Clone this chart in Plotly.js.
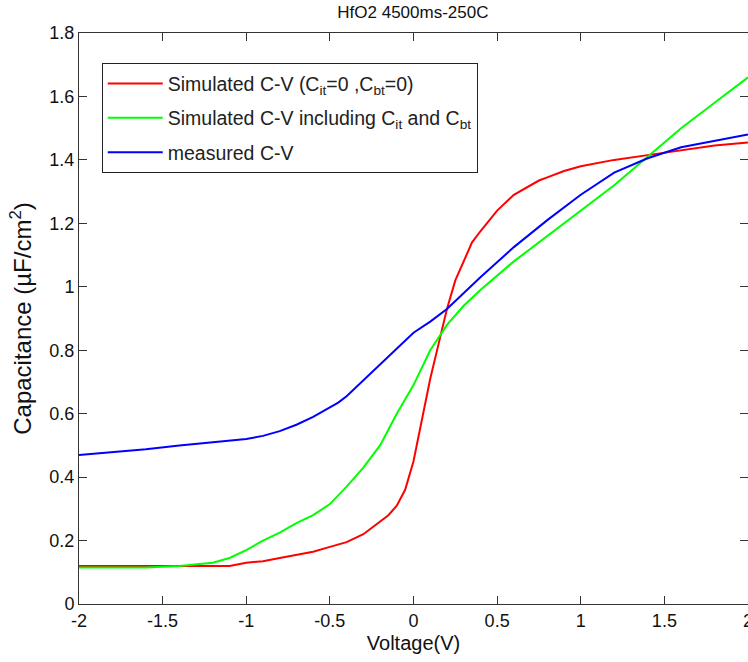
<!DOCTYPE html>
<html>
<head>
<meta charset="utf-8">
<script src="https://cdn.plot.ly/plotly-3.0.1.min.js"></script>
<style>html,body{margin:0;padding:0;background:#fff;}#chart{width:748px;height:662px;}</style>
</head>
<body>
<div id="chart"></div>
<script>
// Data
const redV = [-2,-1.5,-1.2,-1.1,-1,-0.9,-0.8,-0.7,-0.6,-0.5,-0.4,-0.3,-0.2,-0.15,-0.1,-0.05,0,0.05,0.1,0.15,0.2,0.25,0.3,0.35,0.4,0.5,0.6,0.7,0.75,0.8,0.9,1,1.2,1.4,1.6,1.8,2];
const redC = [0.12,0.12,0.12,0.12,0.13,0.135,0.145,0.155,0.165,0.18,0.195,0.22,0.26,0.28,0.31,0.36,0.45,0.58,0.71,0.82,0.93,1.02,1.08,1.14,1.175,1.24,1.29,1.32,1.335,1.345,1.365,1.38,1.40,1.415,1.43,1.445,1.455];

const greenV = [-2,-1.6,-1.4,-1.2,-1.1,-1,-0.9,-0.8,-0.7,-0.6,-0.5,-0.4,-0.3,-0.2,-0.1,0,0.1,0.2,0.3,0.4,0.6,0.8,1,1.2,1.4,1.6,1.8,2];
const greenC = [0.115,0.115,0.12,0.13,0.145,0.17,0.2,0.225,0.255,0.28,0.315,0.37,0.43,0.5,0.6,0.69,0.8,0.88,0.94,0.99,1.08,1.16,1.24,1.32,1.41,1.5,1.58,1.66];

const blueV = [-2,-1.8,-1.6,-1.4,-1.2,-1,-0.9,-0.8,-0.7,-0.6,-0.5,-0.45,-0.4,-0.35,-0.3,-0.2,-0.1,0,0.1,0.2,0.4,0.6,0.8,1,1.2,1.4,1.6,1.8,2];
const blueC = [0.47,0.478,0.488,0.5,0.51,0.52,0.53,0.545,0.565,0.59,0.62,0.635,0.655,0.68,0.705,0.755,0.805,0.855,0.89,0.93,1.03,1.125,1.21,1.29,1.36,1.405,1.44,1.46,1.48];

const seriesNames = [
  "Simulated C-V (C<sub>it</sub>=0 ,C<sub>bt</sub>=0)",
  "Simulated C-V including C<sub>it</sub> and C<sub>bt</sub>",
  "measured C-V"
];
const xTickVals = [-2,-1.5,-1,-0.5,0,0.5,1,1.5,2];
const xTickText = ["-2","-1.5","-1","-0.5","0","0.5","1","1.5","2"];
const yTickVals = [0,0.2,0.4,0.6,0.8,1,1.2,1.4,1.6,1.8];
const yTickText = ["0","0.2","0.4","0.6","0.8","1","1.2","1.4","1.6","1.8"];

const reg = 'Arial, "Liberation Sans", sans-serif';

const traces = [
  {x: redV, y: redC, name: seriesNames[0], legendgroup: 'a', mode: 'lines', line: {color: '#ff0000', width: 2}},
  {x: greenV, y: greenC, name: seriesNames[1], legendgroup: 'b', mode: 'lines', line: {color: '#00ff00', width: 2}},
  {x: blueV, y: blueC, name: seriesNames[2], legendgroup: 'c', mode: 'lines', line: {color: '#0000ff', width: 2}}
];

const axisCommon = {
  showgrid: false, zeroline: false, showline: true, linecolor: '#333', linewidth: 1,
  mirror: 'ticks', ticks: 'inside', ticklen: 8, tickcolor: '#333', tickwidth: 1,
  ticklabeloverflow: 'allow',
  tickfont: {family: reg, size: 18, color: '#111'}
};

const layout = {
  width: 748, height: 662,
  margin: {l: 79, r: 0, t: 33, b: 58},
  paper_bgcolor: '#fff', plot_bgcolor: '#fff',
  title: {text: 'HfO2 4500ms-250C', font: {family: reg, size: 17, color: '#111'}, x: 0.552, xanchor: 'center', y: 0.982, yanchor: 'middle'},
  xaxis: Object.assign({}, axisCommon, {
    range: [-2, 2], tickmode: 'array', tickvals: xTickVals, ticktext: xTickText,
    title: {text: 'Voltage(V)', font: {family: reg, size: 20, color: '#111'}, standoff: 6}
  }),
  yaxis: Object.assign({}, axisCommon, {
    range: [0, 1.8], tickmode: 'array', tickvals: yTickVals, ticktext: yTickText,
    title: {text: 'Capacitance (µF/cm<sup>2</sup>)', font: {family: reg, size: 24, color: '#111'}, standoff: 10}
  }),
  showlegend: true,
  legend: {
    x: 0.034, y: 0.947, xanchor: 'left', yanchor: 'top',
    bgcolor: '#fff', bordercolor: '#222', borderwidth: 1,
    font: {family: reg, size: 19.5, color: '#222'},
    tracegroupgap: 6, itemwidth: 55
  }
};

Plotly.newPlot('chart', traces, layout, {displayModeBar: false, staticPlot: true});
</script>
</body>
</html>
